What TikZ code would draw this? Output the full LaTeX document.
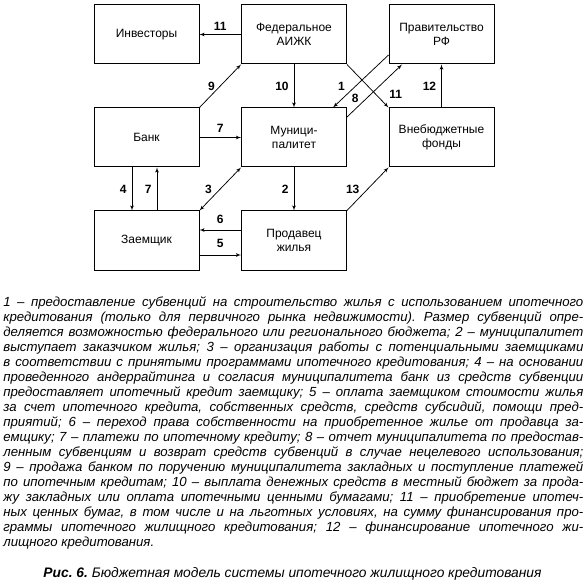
\documentclass[tikz,border=0pt]{standalone}
\usepackage{fontspec}
\setmainfont{Liberation Sans}
\usetikzlibrary{arrows}
\frenchspacing
\tolerance=9999

\tikzset{
	box/.style={draw, line width=1pt, minimum width=105pt, minimum height=59pt,
		align=center, inner sep=2pt, font=\fontsize{12}{14}\selectfont},
	num/.style={font=\bfseries\fontsize{12}{14}\selectfont, inner sep=2pt}
}

\begin{document}
\begin{tikzpicture}[x=1pt, y=-1pt, >=latex', line width=0.75pt, node distance=147.5pt]
	\useasboundingbox (0,0) rectangle (587,583);

	% Nodes {inv, aijk, prav, bank, mun, fond, zaem, prod}
	\node [box] 	(inv) at (146.5,34.5) 				{Инвесторы};
	\node [box] 	(aijk)  [right of=inv]  			{Федеральное\\АИЖК};
	\node [box] 	(prav)  [right of=aijk]  			{Правительство\\РФ};
	\node [box] 	(bank)  [below of=inv, node distance=103pt]  	{Банк};
	\node [box] 	(mun)   [right of=bank]  			{Муници-\\палитет};
	\node [box] 	(fond)  [right of=mun]  			{Внебюджетные\\фонды};
	\node [box] 	(zaem)  [below of=bank, node distance=103pt] 	{Заемщик};
	\node [box] 	(prod)  [right of=zaem]  			{Продавец\\жилья};

	% Paths
	\path [->] 	(aijk.west) edge 		node [num, above=2pt] 	{11}	(inv.east);
	\path [->] 	(bank.north east) edge 	node [num, left=3pt] 	{9}		(aijk.south west);
	\path [->] 	(aijk.south) edge 		node [num, left=3pt] 	{10}	(mun.north);
	\path [->] 	([yshift=-20.5pt]prav.west) edge 	node [num, pos=0.6, left=8pt] 	{1}	([xshift=39pt]mun.north);
	\path [->] 	([yshift=20.5pt]mun.east) edge 	node [num, pos=0.36, left=6pt] 	{8}	([xshift=-39.5pt]prav.south);
	\path [->] 	(aijk.south east) edge 	node [num, pos=0.7, right=11pt] 	{11}	(fond.north west);
	\path [->] 	(fond.north) edge 		node [num, left=3pt] 	{12}	(prav.south);

	\path [->] 	(bank.east) edge 		node [num, above=3pt] 	{7}		(mun.west);
	\path [->] 	([xshift=-14.5pt]bank.south) edge 	node [num, left=3pt] 	{4}	([xshift=-14.5pt]zaem.north);
	\path [->] 	([xshift=10.5pt]zaem.north) edge 	node [num, left=3pt] 	{7}	([xshift=10.5pt]bank.south);
	\path [<->] (zaem.north east) edge 	node [num, left=6pt] 	{3}		(mun.south west);
	\path [->] 	(mun.south) edge 		node [num, left=3pt] 	{2}		(prod.north);
	\path [->] 	(prod.north east) edge 	node [num, left=6pt] 	{13}	(fond.south west);
	\path [->] 	([yshift=10.5pt]prod.west) edge 	node [num, above=4pt] 	{6}	([yshift=10.5pt]zaem.east);
	\path [->] 	([yshift=-14.5pt]zaem.east) edge 	node [num, above=5pt] 	{5}	([yshift=-14.5pt]prod.west);

	% Legend and caption
	\node [anchor=north west, text width=580pt, align=justify, inner sep=0pt,
		font=\itshape\fontsize{13.2}{15}\selectfont] (legend) at (3,296)
	{1 – предоставление субвенций на строительство жилья с использованием ипотечного\linebreak
	кредитования (только для первичного рынка недвижимости). Размер субвенций опре-\linebreak
	деляется возможностью федерального или регионального бюджета; 2 – муниципалитет\linebreak
	выступает заказчиком жилья; 3 – организация работы с потенциальными заемщиками\linebreak
	в соответствии с принятыми программами ипотечного кредитования; 4 – на основании\linebreak
	проведенного андеррайтинга и согласия муниципалитета банк из средств субвенции\linebreak
	предоставляет ипотечный кредит заемщику; 5 – оплата заемщиком стоимости жилья\linebreak
	за счет ипотечного кредита, собственных средств, средств субсидий, помощи пред-\linebreak
	приятий; 6 – переход права собственности на приобретенное жилье от продавца за-\linebreak
	емщику; 7 – платежи по ипотечному кредиту; 8 – отчет муниципалитета по предостав-\linebreak
	ленным субвенциям и возврат средств субвенций в случае нецелевого использования;\linebreak
	9 – продажа банком по поручению муниципалитета закладных и поступление платежей\linebreak
	по ипотечным кредитам; 10 – выплата денежных средств в местный бюджет за прода-\linebreak
	жу закладных или оплата ипотечными ценными бумагами; 11 – приобретение ипотеч-\linebreak
	ных ценных бумаг, в том числе и на льготных условиях, на сумму финансирования про-\linebreak
	граммы ипотечного жилищного кредитования; 12 – финансирование ипотечного жи-\linebreak
	лищного кредитования.};

	\node [anchor=base, inner sep=0pt, font=\itshape\fontsize{13.8}{16}\selectfont] (caption) at (292.5,577)
	{\textbf{Рис. 6.} Бюджетная модель системы ипотечного жилищного кредитования};

\end{tikzpicture}
\end{document}
